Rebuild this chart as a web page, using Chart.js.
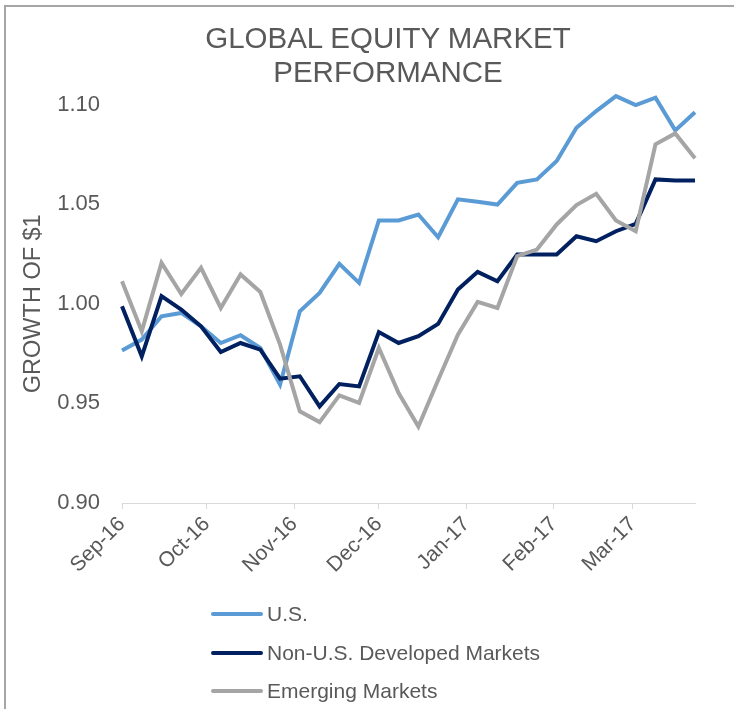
<!DOCTYPE html>
<html>
<head>
<meta charset="utf-8">
<script src="https://cdn.jsdelivr.net/npm/chart.js@4/dist/chart.umd.min.js"></script>
<style>
  html, body { margin: 0; padding: 0; background: #ffffff; overflow: hidden; }
  body { width: 734px; height: 709px; position: relative; font-family: "Liberation Sans", Arial, sans-serif; }
  #wrap { position: absolute; left: 0; top: 0; width: 734px; height: 709px; }
  #frameTop { position: absolute; left: 4px; top: 5px; width: 730px; height: 2px; background: #a6a6a6; pointer-events: none; }
  #frameLeft { position: absolute; left: 4px; top: 5px; width: 2px; height: 704px; background: #a6a6a6; pointer-events: none; }
  #title { position: absolute; left: 0; top: 21px; width: 776px; text-align: center; color: #595959; font-size: 29.5px; line-height: 34px; }
  #legend { position: absolute; left: 211px; top: 595px; color: #595959; font-size: 21px; }
  .item { height: 38.5px; display: flex; align-items: center; white-space: nowrap; }
  .swatch { width: 52px; height: 4px; border-radius: 2px; margin-right: 4px; }
</style>
</head>
<body>
<div id="wrap"><canvas id="chart"></canvas></div>
<div id="frameTop"></div>
<div id="frameLeft"></div>
<div id="title">GLOBAL EQUITY MARKET<br>PERFORMANCE</div>
<div id="legend"></div>
<script>
// Days since 1 Sep 2016 for each weekly observation
const weekDays = [0, 7, 14, 21, 28, 35, 42, 49, 56, 63, 70, 77, 84, 91, 98, 105, 112, 119, 126, 133, 140, 147, 154, 161, 168, 175, 182, 189, 196, 203];

// Month tick positions (days since 1 Sep 2016) and labels
const monthDays = [0, 30, 61, 91, 122, 153, 181];
const monthLabels = ['Sep-16', 'Oct-16', 'Nov-16', 'Dec-16', 'Jan-17', 'Feb-17', 'Mar-17'];

// Y-axis ticks
const yTicks = [0.90, 0.95, 1.00, 1.05, 1.10];

// Series: growth of $1
const usValues = [0.9765, 0.982, 0.9937, 0.9954, 0.9887, 0.9803, 0.9842, 0.9778, 0.9594, 0.9962,
                  1.0054, 1.0200, 1.0105, 1.0418, 1.0418, 1.0448, 1.0334, 1.0524, 1.0512, 1.0498,
                  1.0607, 1.0624, 1.0716, 1.0883, 1.0967, 1.1042, 1.0997, 1.1034, 1.0870, 1.0961];
const nonUsValues = [0.9987, 0.9736, 1.0038, 0.9971, 0.9887, 0.9758, 0.9803, 0.9770, 0.9624, 0.9636,
                     0.9485, 0.9597, 0.9585, 0.9858, 0.9803, 0.9837, 0.9899, 1.0071, 1.0160, 1.0113,
                     1.0247, 1.0247, 1.0247, 1.0339, 1.0314, 1.0364, 1.0401, 1.0624, 1.0619, 1.0619];
const emValues = [1.0113, 0.9862, 1.0205, 1.0049, 1.0180, 0.9979, 1.0147, 1.0059, 0.9795, 0.9460,
                  0.9406, 0.9540, 0.9502, 0.9778, 0.9552, 0.9384, 0.9617, 0.9845, 1.0009, 0.9979,
                  1.0239, 1.0272, 1.0398, 1.0495, 1.0552, 1.0418, 1.0364, 1.0800, 1.0855, 1.0730];

const seriesNames = ['U.S.', 'Non-U.S. Developed Markets', 'Emerging Markets'];
const seriesColors = ['#5b9bd5', '#002060', '#a5a5a5'];
const seriesValues = [usValues, nonUsValues, emValues];
const seriesOrder = [3, 2, 1]; // later series drawn on top

const textColor = '#595959';
const fontFamily = '"Liberation Sans", Arial, sans-serif';

const datasets = seriesNames.map((name, s) => ({
  label: name,
  data: weekDays.map((d, i) => ({ x: d, y: seriesValues[s][i] })),
  borderColor: seriesColors[s],
  backgroundColor: seriesColors[s],
  borderWidth: 4,
  pointRadius: 0,
  pointHoverRadius: 0,
  tension: 0,
  fill: false,
  clip: false,
  order: seriesOrder[s]
}));

new Chart(document.getElementById('chart'), {
  type: 'line',
  data: { datasets },
  options: {
    responsive: true,
    maintainAspectRatio: false,
    animation: false,
    layout: { padding: { top: 104.5, left: 0, right: 39, bottom: 0 } },
    plugins: { legend: { display: false }, title: { display: false }, tooltip: { enabled: false } },
    scales: {
      x: {
        type: 'linear',
        min: weekDays[0],
        max: weekDays[weekDays.length - 1],
        afterBuildTicks: (scale) => { scale.ticks = monthDays.map(v => ({ value: v })); },
        afterFit: (scale) => { scale.height = 206; },
        ticks: {
          callback: (value) => { const k = monthDays.indexOf(value); return k >= 0 ? monthLabels[k] : ''; },
          maxRotation: 45, minRotation: 45, autoSkip: false,
          color: textColor, padding: 3,
          font: { family: fontFamily, size: 21 }
        },
        grid: { display: true, drawOnChartArea: false, drawTicks: true, tickLength: 6, color: '#d9d9d9', lineWidth: 1 },
        border: { display: true, color: '#d9d9d9', width: 1 }
      },
      y: {
        min: yTicks[0],
        max: yTicks[yTicks.length - 1],
        afterBuildTicks: (scale) => { scale.ticks = yTicks.map(v => ({ value: v })); },
        afterFit: (scale) => { scale.width = 122; },
        ticks: {
          callback: (value) => Number(value).toFixed(2),
          color: textColor, padding: 22,
          font: { family: fontFamily, size: 22 }
        },
        grid: { display: false, drawTicks: false },
        border: { display: false },
        title: {
          display: true, text: 'GROWTH OF $1', color: textColor,
          font: { family: fontFamily, size: 23.5 },
          padding: { top: 19, bottom: 0 }
        }
      }
    }
  }
});

// Legend (vertical list, as in reference)
const legend = document.getElementById('legend');
seriesNames.forEach((name, s) => {
  const row = document.createElement('div');
  row.className = 'item';
  const sw = document.createElement('span');
  sw.className = 'swatch';
  sw.style.background = seriesColors[s];
  const tx = document.createElement('span');
  tx.textContent = name;
  row.appendChild(sw); row.appendChild(tx);
  legend.appendChild(row);
});
</script>
</body>
</html>
